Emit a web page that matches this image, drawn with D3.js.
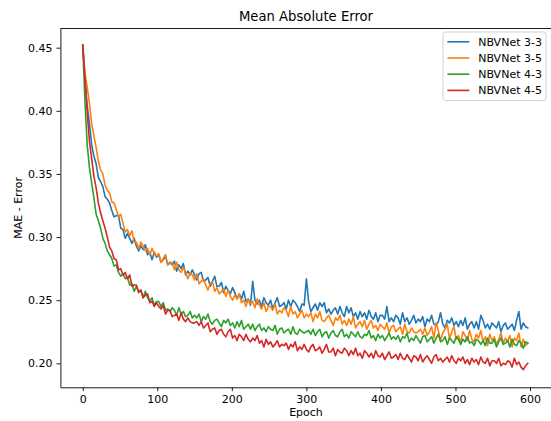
<!DOCTYPE html>
<html><head><meta charset="utf-8">
<script src="https://cdn.jsdelivr.net/npm/d3@7"></script>
<style>body{margin:0;background:#fff} svg{display:block} text{font-family:"DejaVu Sans",sans-serif;fill:#000}</style>
</head><body><svg id="c" width="551" height="421"></svg>
<script>
const seriesNames = ["NBVNet 3-3","NBVNet 3-5","NBVNet 4-3","NBVNet 4-5"];
const seriesColors = ["#1f77b4","#ff7f0e","#2ca02c","#d62728"];
// one reading every 3rd epoch (0, 3, 6, ... 597)
const epochs = d3.range(0, 600, 3);
const mae33 = [.452,.426,.404,.390,.373,.364,.358,.347,.344,.340,.332,.330,.327,.321,.316,.317,.317,.307,.306,.299,
.303,.299,.295,.299,.293,.289,.293,.290,.294,.286,.288,.282,.288,.284,.286,.280,.282,.285,.278,.280,
.278,.281,.273,.278,.275,.279,.270,.273,.270,.274,.270,.266,.271,.272,.265,.266,.268,.261,.265,.269,
.261,.261,.264,.256,.261,.258,.255,.260,.256,.251,.255,.251,.257,.249,.251,.246,.265,.250,.247,.250,
.245,.252,.248,.246,.250,.243,.248,.252,.245,.246,.248,.243,.250,.245,.250,.248,.245,.241,.247,.246,
.267,.249,.241,.244,.247,.242,.248,.245,.248,.240,.243,.239,.242,.244,.239,.245,.240,.237,.245,.240,
.244,.237,.240,.235,.241,.237,.240,.235,.242,.237,.235,.240,.233,.238,.238,.235,.245,.233,.236,.233,
.238,.236,.231,.240,.233,.236,.231,.234,.238,.232,.235,.233,.237,.229,.235,.233,.238,.231,.230,.233,
.240,.231,.228,.234,.232,.236,.230,.233,.229,.234,.230,.236,.227,.231,.233,.228,.233,.227,.238,.234,
.228,.231,.227,.232,.230,.228,.233,.225,.230,.232,.227,.229,.231,.226,.234,.241,.227,.232,.229,.228];
const mae35 = [.452,.430,.419,.406,.390,.380,.371,.360,.353,.350,.341,.337,.335,.328,.327,.322,.316,.318,.311,.304,
.306,.301,.305,.296,.296,.291,.296,.293,.289,.291,.286,.291,.287,.285,.287,.280,.283,.286,.278,.279,
.280,.274,.280,.274,.272,.276,.272,.267,.272,.270,.266,.271,.263,.265,.267,.262,.258,.263,.265,.257,
.260,.255,.257,.259,.253,.258,.253,.250,.254,.251,.255,.248,.250,.245,.251,.247,.249,.244,.251,.246,
.243,.248,.241,.245,.245,.242,.247,.239,.242,.240,.244,.242,.237,.245,.239,.241,.236,.239,.242,.236,
.239,.237,.240,.233,.239,.236,.241,.234,.233,.236,.238,.234,.230,.236,.234,.238,.231,.234,.230,.235,
.231,.237,.228,.231,.233,.229,.234,.227,.231,.234,.228,.230,.226,.231,.229,.227,.232,.224,.229,.230,
.225,.227,.229,.223,.231,.225,.224,.228,.225,.224,.225,.227,.223,.228,.222,.225,.229,.220,.232,.226,
.218,.224,.227,.231,.219,.225,.229,.219,.222,.216,.225,.222,.218,.226,.219,.217,.223,.220,.226,.217,
.221,.214,.223,.218,.221,.215,.219,.224,.216,.220,.217,.222,.213,.220,.218,.224,.213,.219,.214,.216];
const mae43 = [.452,.407,.373,.355,.343,.331,.318,.313,.307,.299,.295,.289,.286,.283,.277,.278,.272,.269,.271,.267,
.268,.262,.263,.257,.261,.257,.258,.252,.257,.252,.249,.252,.246,.249,.249,.245,.248,.242,.243,.241,
.244,.242,.238,.244,.239,.241,.237,.238,.241,.236,.238,.236,.239,.233,.237,.235,.239,.233,.231,.234,
.235,.232,.229,.234,.232,.235,.230,.232,.228,.233,.229,.234,.227,.229,.231,.227,.231,.226,.229,.231,
.226,.228,.225,.229,.227,.226,.230,.223,.227,.228,.224,.226,.227,.223,.229,.224,.223,.227,.225,.224,
.225,.226,.223,.227,.222,.225,.227,.221,.224,.225,.220,.224,.226,.222,.221,.225,.227,.221,.223,.220,
.225,.223,.221,.225,.221,.220,.223,.222,.226,.220,.222,.218,.223,.220,.222,.218,.221,.224,.219,.221,
.219,.222,.217,.221,.220,.224,.217,.220,.218,.222,.219,.216,.221,.222,.217,.219,.221,.216,.220,.223,
.217,.218,.221,.215,.220,.218,.216,.221,.219,.215,.219,.217,.221,.216,.217,.214,.219,.218,.215,.218,
.214,.220,.216,.216,.219,.213,.217,.220,.215,.216,.218,.213,.219,.215,.214,.218,.216,.212,.217,.216];
const mae45 = [.452,.426,.399,.376,.362,.348,.339,.327,.319,.313,.307,.300,.292,.289,.283,.282,.274,.275,.270,.272,
.267,.270,.261,.262,.262,.256,.258,.252,.254,.255,.248,.249,.245,.248,.245,.243,.246,.239,.242,.242,
.237,.238,.239,.234,.240,.235,.233,.236,.233,.232,.232,.233,.230,.233,.228,.230,.232,.225,.227,.228,
.223,.226,.227,.223,.221,.225,.227,.220,.222,.218,.223,.221,.218,.223,.219,.217,.220,.218,.222,.216,
.218,.213,.219,.215,.217,.213,.215,.218,.213,.215,.214,.216,.211,.215,.213,.217,.210,.213,.211,.215,
.211,.209,.213,.215,.210,.211,.213,.208,.211,.215,.209,.209,.212,.206,.211,.209,.208,.212,.210,.206,
.210,.207,.212,.206,.208,.204,.210,.208,.205,.208,.204,.210,.206,.205,.208,.203,.206,.209,.204,.205,
.207,.203,.208,.204,.203,.207,.204,.201,.206,.205,.202,.207,.201,.204,.206,.203,.200,.205,.207,.202,
.204,.201,.203,.205,.201,.206,.202,.200,.204,.202,.205,.200,.203,.199,.204,.201,.203,.199,.205,.201,
.200,.204,.198,.202,.202,.200,.204,.198,.200,.199,.202,.201,.197,.204,.199,.201,.197,.195,.198,.200];
const seriesValues = [mae33, mae35, mae43, mae45];
const xTicks = [0,100,200,300,400,500,600];
const yTicks = [0.20,0.25,0.30,0.35,0.40,0.45];

const svg = d3.select("#c");
const P = {left:60.4, right:551.6, top:28.5, bottom:387.3};
const x = d3.scaleLinear().domain([-29.95, 628.95]).range([P.left, P.right]);
const y = d3.scaleLinear().domain([0.181, 0.4652]).range([P.bottom, P.top]);

svg.append("defs").append("clipPath").attr("id","clip")
  .append("rect").attr("x",P.left).attr("y",P.top).attr("width",P.right-P.left).attr("height",P.bottom-P.top);

const line = d3.line().x((d,i)=>x(epochs[i])).y(d=>y(d));
const g = svg.append("g").attr("clip-path","url(#clip)");
seriesValues.forEach((vals,k)=>{
  g.append("path").datum(vals).attr("d",line).attr("fill","none")
   .attr("stroke",seriesColors[k]).attr("stroke-width",1.6).attr("stroke-linejoin","round").attr("stroke-linecap","square");
});

const xAxis = svg.append("g").attr("transform",`translate(0,${P.bottom})`)
  .call(d3.axisBottom(x).tickValues(xTicks).tickFormat(d3.format("d")).tickSize(3.9).tickPadding(3.9).tickSizeOuter(0));
const yAxis = svg.append("g").attr("transform",`translate(${P.left},0)`)
  .call(d3.axisLeft(y).tickValues(yTicks).tickFormat(d3.format(".2f")).tickSize(3.9).tickPadding(3.9).tickSizeOuter(0));
[xAxis,yAxis].forEach(a=>{
  a.selectAll("text").attr("font-size",11).attr("font-family","DejaVu Sans").attr("fill","#000");
  a.selectAll("line").attr("stroke","#000").attr("stroke-width",0.9);
  a.select(".domain").attr("stroke","#000").attr("stroke-width",0.9);
});
svg.append("line").attr("x1",P.left).attr("x2",P.right).attr("y1",P.top).attr("y2",P.top)
  .attr("stroke","#000").attr("stroke-width",0.9);

svg.append("text").attr("x",(P.left+P.right)/2).attr("y",20.5).attr("text-anchor","middle")
  .attr("font-size",13.2).text("Mean Absolute Error");
svg.append("text").attr("x",(P.left+P.right)/2).attr("y",416).attr("text-anchor","middle")
  .attr("font-size",11).text("Epoch");
svg.append("text").attr("transform",`translate(21.5,${(P.top+P.bottom)/2}) rotate(-90)`).attr("text-anchor","middle")
  .attr("font-size",11).text("MAE - Error");

const L = {x:443, y:32, w:103, h:68.5, rowY:41.8, step:16.2};
const lg = svg.append("g");
lg.append("rect").attr("x",L.x).attr("y",L.y).attr("width",L.w).attr("height",L.h).attr("rx",2.5)
  .attr("fill","#fff").attr("fill-opacity",0.8).attr("stroke","#ccc").attr("stroke-width",0.9);
seriesNames.forEach((n,k)=>{
  const yy = L.rowY + k*L.step;
  lg.append("line").attr("x1",L.x+4.4).attr("x2",L.x+26.4).attr("y1",yy).attr("y2",yy)
    .attr("stroke",seriesColors[k]).attr("stroke-width",1.6);
  lg.append("text").attr("x",L.x+35.2).attr("y",yy).attr("dy","0.36em").attr("font-size",11).text(n);
});
</script></body></html>
